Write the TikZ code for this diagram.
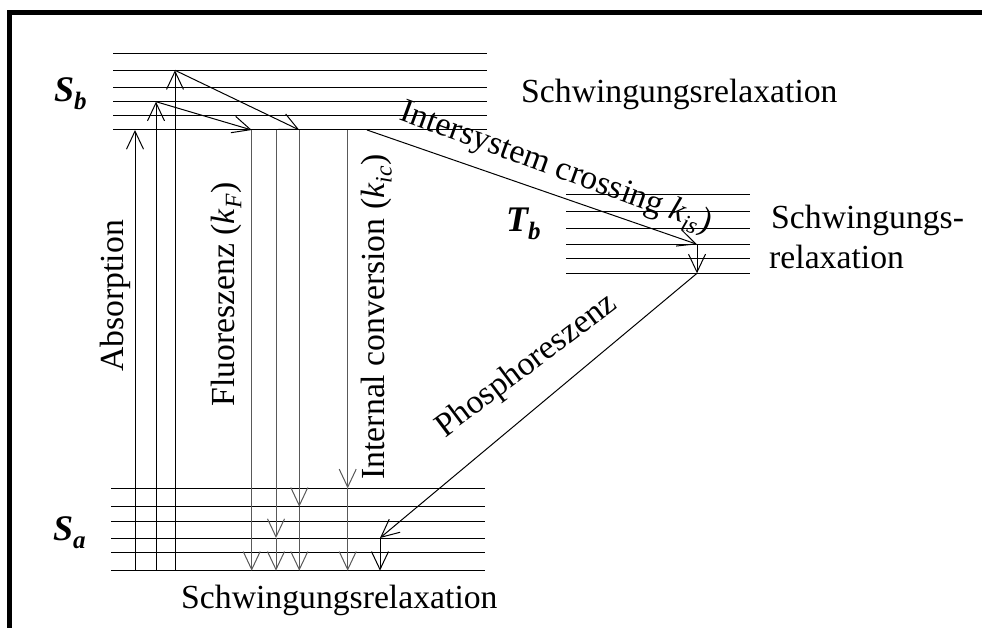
\documentclass[tikz,border=0pt]{standalone}
\usepackage{fontspec}
\setmainfont{Liberation Serif}
\usetikzlibrary{arrows.meta}
\begin{document}
\begin{tikzpicture}[x=1pt,y=-1pt,
  level/.style={line width=1pt},
  trans/.style={line width=1pt,-{Straight Barb[length=18pt,width=17pt]}},
  relax/.style={trans,draw=black!65},
  lbl/.style={font=\fontsize{33.7}{40}\selectfont,inner sep=0pt},
  state/.style={font=\fontsize{36}{40}\selectfont\bfseries\itshape,inner sep=0pt,anchor=base west}]
\clip (0,0) rectangle (982,628);

% open frame (top and left edges)
\draw[line width=5pt] (9,650) -- (9,12.5) -- (1000,12.5);

% vibrational levels
\foreach \y in {53.3,70.3,87.3,101.7,115.3,130}
  \draw[level] (113,\y) -- (487,\y);
\foreach \y in {194.3,211.7,228.3,244.3,258.3,273.3}
  \draw[level] (566,\y) -- (750,\y);
\foreach \y in {488.3,506.7,521,538,552.7,570.7}
  \draw[level] (111,\y) -- (485,\y);

% state labels
\node[state] (Sb) at (54,102) {S\raisebox{-8pt}{\fontsize{25}{25}\selectfont b}};
\node[state] (Sa) at (53,540) {S\raisebox{-8pt}{\fontsize{25}{25}\selectfont a}};
\node[state] (Tb) at (506,232) {T\raisebox{-8pt}{\fontsize{25}{25}\selectfont b}};

% process labels
\node[lbl,anchor=base west] (relaxS) at (521,103) {Schwingungsrelaxation};
\node[lbl,anchor=base west] (relaxT1) at (771,228.3) {Schwingungs-};
\node[lbl,anchor=base west] (relaxT2) at (769,268.3) {relaxation};
\node[lbl,anchor=base west] (relaxA) at (181,608) {Schwingungsrelaxation};
\node[lbl,rotate=90,anchor=base] (abs) at (123,295.8) {Absorption};
\node[lbl,rotate=90,anchor=base] (fl) at (234.5,294.5) {Fluoreszenz (\textit{k}\textsubscript{\textit{F}})};
\node[lbl,rotate=90,anchor=base] (ic) at (384.5,317) {Internal conversion (\textit{k}\textsubscript{\textit{ic}})};
\node[lbl,rotate=-20,anchor=base] (isc) at (553,176) {Intersystem crossing \textit{k}\textsubscript{\textit{is}})};
\node[lbl,rotate=37,anchor=base] (ph) at (531.7,372.7) {Phosphoreszenz};

% end points of the transitions
\coordinate (A1) at (135,570.7);   \coordinate (A1t) at (135,130);
\coordinate (A2) at (156,570.7);   \coordinate (A2t) at (156,101.7);
\coordinate (A3) at (175,570.7);   \coordinate (A3t) at (175,70.3);
\coordinate (R1) at (251.7,130);   \coordinate (R2) at (299.3,130);
\coordinate (F1e) at (251.7,570.7);
\coordinate (F2) at (276,130);     \coordinate (F2m) at (276,538);   \coordinate (F2e) at (276,570.7);
\coordinate (F3m) at (299.3,506.7); \coordinate (F3e) at (299.3,570.7);
\coordinate (I1) at (347.7,130);   \coordinate (I1m) at (347.7,488.3); \coordinate (I1e) at (347.7,570.7);
\coordinate (X0) at (367,130);     \coordinate (X1) at (697,244.3);  \coordinate (X2) at (697,273.3);
\coordinate (P1) at (380,538);     \coordinate (P2) at (380,570.7);

% absorption and relaxation inside S_b
\draw[trans] (A1) -- (A1t);
\draw[trans] (A2) -- (A2t);
\draw[trans] (A3) -- (A3t);
\draw[trans] (A2t) -- (R1);
\draw[trans] (A3t) -- (R2);

% fluorescence and internal conversion
\draw[relax] (R1) -- (F1e);
\draw[relax] (F2) -- (F2m);
\draw[relax] (F2m) -- (F2e);
\draw[relax] (R2) -- (F3m);
\draw[relax] (F3m) -- (F3e);
\draw[relax] (I1) -- (I1m);
\draw[relax] (I1m) -- (I1e);

% intersystem crossing, relaxation in T_b, phosphorescence
\draw[trans] (X0) -- (X1);
\draw[trans] (X1) -- (X2);
\draw[trans] (X2) -- (P1);
\draw[trans] (P1) -- (P2);
\end{tikzpicture}
\end{document}
